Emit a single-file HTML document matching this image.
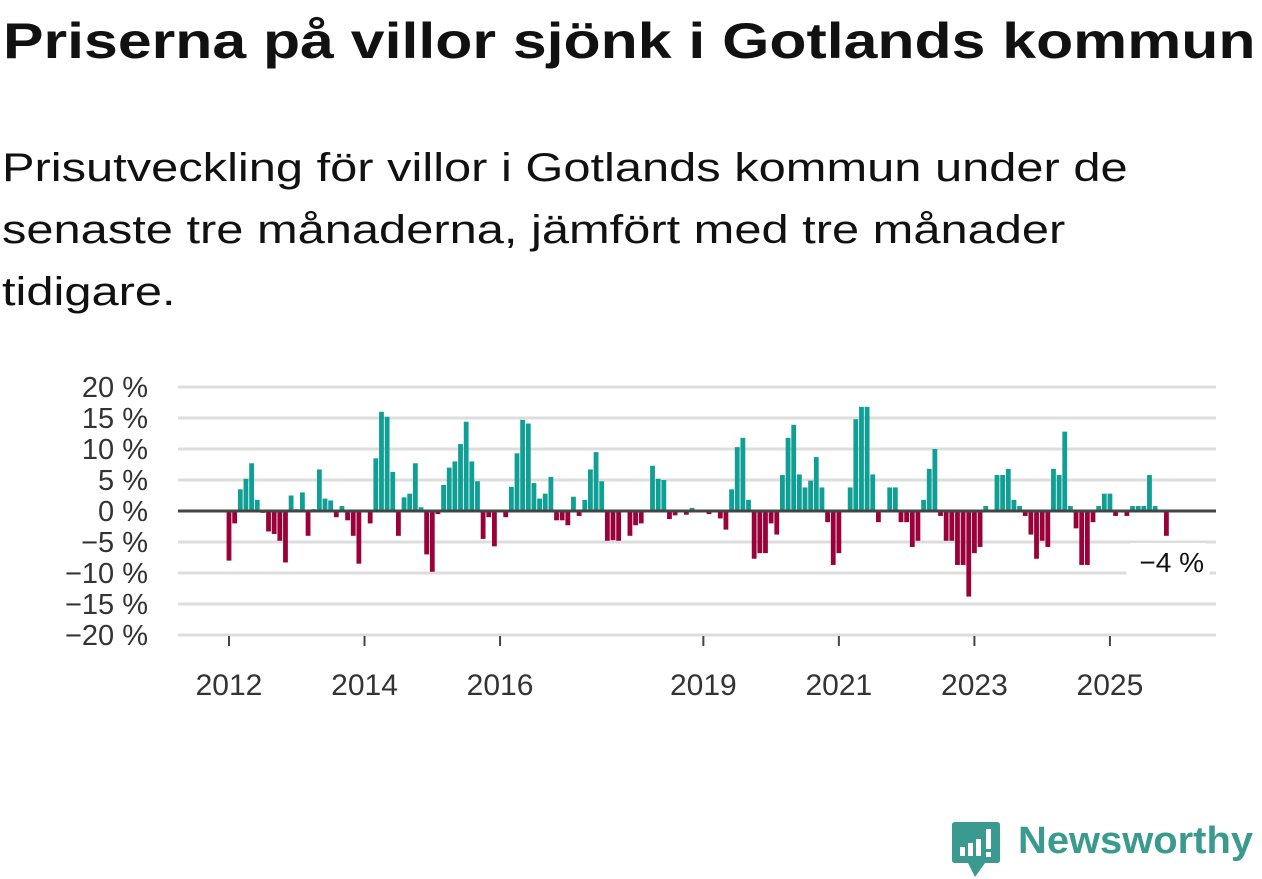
<!DOCTYPE html>
<html><head><meta charset="utf-8"><style>
body{margin:0;width:1262px;height:879px;background:#fff;overflow:hidden;font-family:"Liberation Sans",sans-serif;color:#111;position:relative}
#title{position:absolute;left:3px;top:12px;font-size:50px;font-weight:bold;white-space:nowrap;transform-origin:0 0;transform:scaleX(1.215)}
#sub{position:absolute;left:2px;top:137px;font-size:40px;line-height:62px;white-space:nowrap;transform-origin:0 0;transform:scaleX(1.22)}
svg{position:absolute;left:0;top:0}
#logo{position:absolute;left:1018px;top:820px;font-size:38px;font-weight:bold;color:#3a9a8f;white-space:nowrap;transform-origin:0 0;transform:scaleX(1.05)}
</style></head><body>
<div id="title">Priserna på villor sjönk i Gotlands kommun</div>
<div id="sub">Prisutveckling för villor i Gotlands kommun under de<br>senaste tre månaderna, jämfört med tre månader<br>tidigare.</div>
<svg width="1262" height="879" id="chart">
<g id="grid"></g><g id="bars"></g><g id="axes"></g>
<g>
<path d="M955 822 H997 Q1000 822 1000 825 V860 Q1000 863 997 863 H985 L975 877 L968 863 H955 Q952 863 952 860 V825 Q952 822 955 822 Z" fill="#3a9a8f"/>
<rect x="960" y="847" width="5" height="9" fill="#fff"/><rect x="968" y="843" width="5" height="13" fill="#fff"/><rect x="976" y="839" width="5" height="17" fill="#fff"/><rect x="986" y="829" width="5" height="20" fill="#fff"/><rect x="986" y="852" width="5" height="5" fill="#fff"/>
</g>
</svg>
<div id="logo">Newsworthy</div>
<script>
const values=[-8,-2,3.5,5.2,7.7,1.8,-0.3,-3.3,-3.7,-4.8,-8.3,2.5,0.3,3,-4,0.3,6.7,2,1.7,-1,0.8,-1.5,-4,-8.5,
0,-2,8.5,16,15.2,6.3,-4,2.2,2.8,7.7,0.6,-7,-9.8,-0.5,4.2,7,8,10.8,14.4,8,4.8,-4.5,-1,-5.7,
0,-1,3.9,9.3,14.7,14.1,4.5,2,2.8,5.5,-1.5,-1.5,-2.3,2.3,-0.8,1.8,6.7,9.5,4.8,-4.8,-4.7,-4.8,0.2,-4,
-2.3,-2,0,7.3,5.2,5,-1.3,-0.7,0,-0.6,0.5,0,0,-0.5,0,-1.2,-3,3.5,10.3,11.8,1.8,-7.7,-6.8,-6.8,
-2,-3.8,5.8,11.8,13.9,5.9,3.8,4.9,8.7,3.8,-1.8,-8.7,-6.8,0,3.8,14.8,16.8,16.8,5.9,-1.8,0,3.8,
3.8,-1.8,-1.8,-5.8,-4.8,1.8,6.8,10,-0.8,-4.8,-4.8,-8.7,-8.7,-13.8,-6.8,-5.8,0.8,0,5.8,5.8,6.8,1.8,
0.8,-0.8,-3.8,-7.7,-4.8,-5.8,6.8,5.8,12.8,0.8,-2.8,-8.7,-8.7,-1.8,0.8,2.8,2.8,-0.8,0,-0.8,0.8,0.8,0.8,5.8,0.8,0,-4];
const yTicks=[20,15,10,5,0,-5,-10,-15,-20];
const xTickYears=[2012,2014,2016,2019,2021,2023,2025];
const startYear=2012;
const NS="http://www.w3.org/2000/svg";
const y0=511,yScale=6.2,x0=229,step=5.647;
const y=v=>y0-v*yScale;
const x=i=>x0+i*step;
function mk(t,a,p){const e=document.createElementNS(NS,t);for(const k in a)e.setAttribute(k,a[k]);p.appendChild(e);return e;}
const grid=document.getElementById('grid'),bars=document.getElementById('bars'),axes=document.getElementById('axes');
yTicks.forEach(t=>{
 const l=mk('line',{x1:178,x2:1216,y1:y(t),y2:y(t),stroke:'#dddddd','stroke-width':3},grid);
 
 
 const tx=mk('text',{x:148,y:y(t)+10,'text-anchor':'end','font-size':29,fill:'#333','font-family':'Liberation Sans, sans-serif'},axes);
 tx.textContent=(t<0?'\u2212'+(-t):t)+' %';
 
 
});
mk('line',{x1:178,x2:1216,y1:636,y2:636,stroke:'#ddd','stroke-width':1},grid);
values.forEach((v,i)=>{
 if(v===0)return;
 const r=mk('rect',{x:x(i)-2.4,width:4.8,y:v>0?y(v):y0,height:Math.abs(v)*yScale,fill:v>0?'#0f9f94':'#9a0039'},bars);
 
 
});
const zl=mk('line',{x1:178,x2:1216,y1:y0,y2:y0,stroke:'#444','stroke-width':3},axes);


xTickYears.forEach(yr=>{
 const xi=x((yr-startYear)*12);
 mk('line',{x1:xi,x2:xi,y1:636,y2:646,stroke:'#444','stroke-width':2},axes);
 const t=mk('text',{x:xi,y:695,'text-anchor':'middle','font-size':30,fill:'#333','font-family':'Liberation Sans, sans-serif'},axes);
 t.textContent=yr;
 
 
});
const last=values[values.length-1];
const lb=mk('rect',{x:1126,y:543,width:84,height:34,fill:'#fff',rx:6},axes);


const lt=mk('text',{x:1204,y:572,'text-anchor':'end','font-size':28,fill:'#111','font-family':'Liberation Sans, sans-serif'},axes);
lt.textContent=(last<0?'\u2212'+Math.round(-last):Math.round(last))+' %';


</script>
</body></html>
